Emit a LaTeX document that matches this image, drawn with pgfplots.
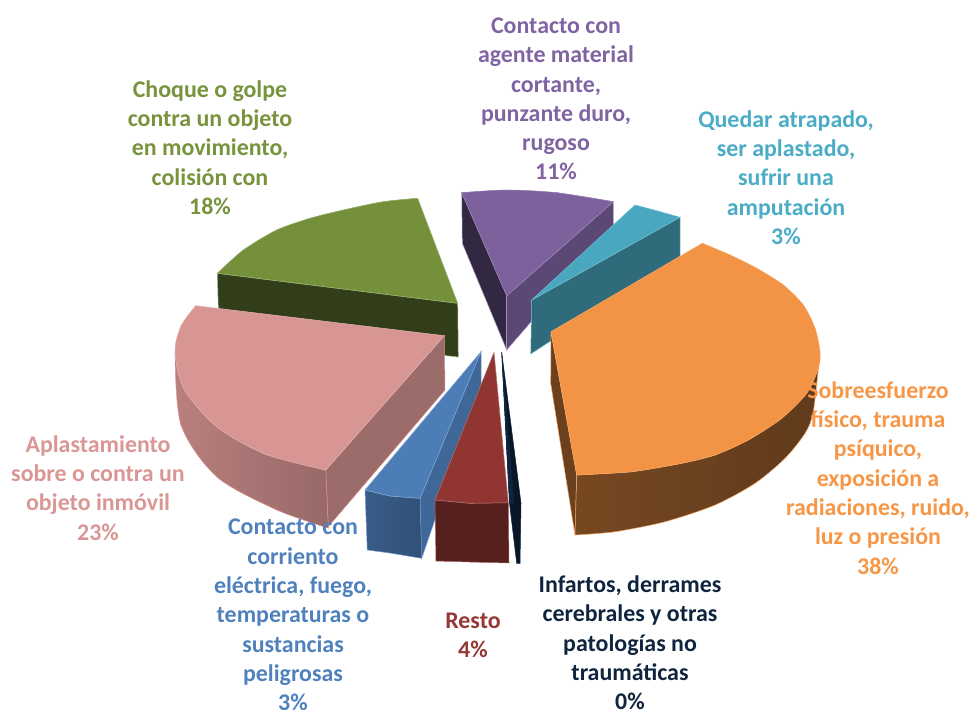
\documentclass[border=0pt]{standalone}
\usepackage{pgfplots}
\pgfplotsset{compat=1.18}
\usepackage{fontspec}
\setmainfont{Carlito}
\definecolor{cgreen}{HTML}{77933C}
\definecolor{cpurple}{HTML}{8064A2}
\definecolor{cteal}{HTML}{4BACC6}
\definecolor{corange}{HTML}{F79646}
\definecolor{cpink}{HTML}{D99694}
\definecolor{cblue}{HTML}{4F81BD}
\definecolor{cred}{HTML}{953735}
\definecolor{cnavy}{HTML}{0F243E}
\newcommand{\lab}[4]{\node[text=#4,align=center,font=\fontsize{23.9}{29.3}\selectfont\bfseries,inner sep=0pt] at (axis cs:#1,#2) {#3};}
% a face's curved edge: filled cap through the points, then the edge line
\newcommand{\facecap}[3]{\addplot[smooth,#1,draw=none] coordinates {#3} --cycle;
\addplot[smooth,draw=#2] coordinates {#3};}
\begin{document}
\begin{tikzpicture}
\useasboundingbox (0,0) rectangle (973pt,709pt);
\begin{axis}[at={(0,0)},anchor=south west,scale only axis,width=973pt,height=709pt,
 xmin=0,xmax=973,ymin=0,ymax=709,y dir=reverse,hide axis,clip=false,
 every axis plot/.append style={forget plot,line width=0.5pt}]
% green
\addplot[fill=cgreen!42!black,draw=cgreen!70!white] coordinates {(217.3,273.3)(457.7,303.3)(458.3,357)(219,330)} --cycle;
\addplot[fill=cgreen!98!black,draw=cgreen!70!white] coordinates {(217.3,273.3)(243.3,250)(276.7,230)(310,218.3)(343.3,210)(383.3,201.7)(417.7,198.3)(457.7,303.3)} --cycle;
\facecap{fill=cgreen!98!black}{cgreen!70!white}{(217.3,273.3)(243.3,250)(276.7,230)(310,218.3)(343.3,210)(383.3,201.7)(417.7,198.3)}
% purple
\addplot[fill=cpurple!40!black,draw=cpurple!60!white] coordinates {(461.7,192.7)(506.7,295.7)(506.7,350)(462.3,243.3)} --cycle;
\addplot[fill=cpurple!72!black,draw=cpurple!60!white] coordinates {(613.3,201.7)(613.3,227)(506.7,350)(506.7,295.7)} --cycle;
\addplot[fill=cpurple!97!black,draw=cpurple!80!white] coordinates {(461.7,192.7)(506.7,190)(556.7,192.7)(613.3,201.7)(506.7,295.7)} --cycle;
\facecap{fill=cpurple!97!black}{cpurple!80!white}{(461.7,192.7)(506.7,190)(556.7,192.7)(613.3,201.7)}
% teal
\addplot[fill=cteal!62!black,draw=cteal!70!white] coordinates {(680,217.3)(531.7,300)(530.7,354)(680,257.3)} --cycle;
\addplot[fill=cteal!97!black,draw=cteal!80!white] coordinates {(635,205)(656.7,210.7)(680,217.3)(531.7,300)} --cycle;
% orange
\addplot[fill=corange!43!black,draw=corange!80!white] coordinates {(551,331.7)(576.7,475)(575,535)(550.7,383.3)} --cycle;
\addplot[left color=corange!48!black,middle color=corange!39!black,right color=corange!39!black,draw=corange!80!white] coordinates {(576.7,475)(631.7,471.7)(681.7,463.3)(715,455)(748.3,440)(781.7,418.3)(806.7,393.3)(818.3,368.3)(813,413)(805,433.3)(785,458.3)(755,483.3)(715,505)(665,521.7)(615,531.7)(575,535)} --cycle;
\facecap{left color=corange!48!black,middle color=corange!39!black,right color=corange!39!black}{corange!80!white}{(818.3,368.3)(813,413)(805,433.3)(785,458.3)(755,483.3)(715,505)(665,521.7)(615,531.7)(575,535)}
\addplot[fill=corange!98!black,draw=corange!80!white] coordinates {(702.3,243.3)(730,255)(756.7,268.3)(783.3,285)(803.3,305)(815,328.3)(820,351.7)(818.3,368.3)(806.7,393.3)(781.7,418.3)(748.3,440)(715,455)(681.7,463.3)(631.7,471.7)(576.7,475)(551,331.7)} --cycle;
\facecap{fill=corange!98!black}{corange!80!white}{(702.3,243.3)(730,255)(756.7,268.3)(783.3,285)(803.3,305)(815,328.3)(820,351.7)(818.3,368.3)(806.7,393.3)(781.7,418.3)(748.3,440)(715,455)(681.7,463.3)(631.7,471.7)(576.7,475)}
% pink
\addplot[fill=cpink!72!black,draw=cpink] coordinates {(444.3,335.7)(445,390)(328.3,526.7)(325.7,470)} --cycle;
\addplot[left color=cpink!85!black,right color=cpink!70!black,draw=cpink] coordinates {(175,352)(184,389)(216.7,426.7)(265,454)(325.7,470)(328.3,528)(277,510)(217,477)(181,425)} --cycle;
\facecap{left color=cpink!85!black,right color=cpink!70!black}{cpink}{(175,352)(181,425)(217,477)(277,510)(328.3,528)}
\addplot[fill=cpink!99!black,draw=cpink!70!white] coordinates {(195.7,305.7)(444.3,335.7)(325.7,470)(265,454)(216.7,426.7)(184,389)(175,352)(181,326)} --cycle;
\facecap{fill=cpink!99!black}{cpink!70!white}{(195.7,305.7)(181,326)(175,352)(184,389)(216.7,426.7)(265,454)(325.7,470)}
% blue
\addplot[fill=cblue!80!black,draw=cblue!80!white] coordinates {(481,351.7)(481,385)(421.7,558.3)(420,498.3)} --cycle;
\addplot[left color=cblue!72!black,right color=cblue!62!black,draw=cblue!80!white] coordinates {(365,490)(390,496)(420,498.3)(421.7,558.3)(390,553)(367.3,550)} --cycle;
\addplot[fill=cblue!97!black,draw=cblue!70!white] coordinates {(481,351.7)(420,498.3)(390,496)(365,490)} --cycle;
% red
\addplot[fill=cred!58!black,draw=cred!80!white] coordinates {(435,500)(470,503.3)(508.3,502.7)(509,563)(470,562)(436,561)} --cycle;
\addplot[fill=cred!97!black,draw=cred!70!white] coordinates {(494,352.3)(508.3,502.7)(470,503.3)(435,500)} --cycle;
% navy
\addplot[fill=cnavy!60!black,draw=cnavy] coordinates {(501.7,352.3)(521,503.3)(520,563.3)(516.7,563.3)(509.5,503)} --cycle;
\addplot[fill=cnavy,draw=cnavy] coordinates {(501.7,352.3)(514,503.3)(509.5,503)} --cycle;
% labels
\lab{556}{99}{Contacto con\\agente material\\cortante,\\punzante duro,\\rugoso\\11\%}{cpurple}
\lab{786}{177.5}{Quedar atrapado,\\ser aplastado,\\sufrir una\\amputación\\3\%}{cteal}
\lab{210}{147.5}{Choque o golpe\\contra un objeto\\en movimiento,\\colisión con\\18\%}{cgreen}
\lab{878}{478}{Sobreesfuerzo\\físico, trauma\\psíquico,\\exposición a\\radiaciones, ruido,\\luz o presión\\38\%}{corange}
\lab{98}{488}{Aplastamiento\\sobre o contra un\\objeto inmóvil\\23\%}{cpink}
\lab{293}{615}{Contacto con\\corriento\\eléctrica, fuego,\\temperaturas o\\sustancias\\peligrosas\\3\%}{cblue}
\lab{473}{635.5}{Resto\\4\%}{cred}
\lab{630}{643}{Infartos, derrames\\cerebrales y otras\\patologías no\\traumáticas\\0\%}{cnavy}
\end{axis}
\end{tikzpicture}
\end{document}
